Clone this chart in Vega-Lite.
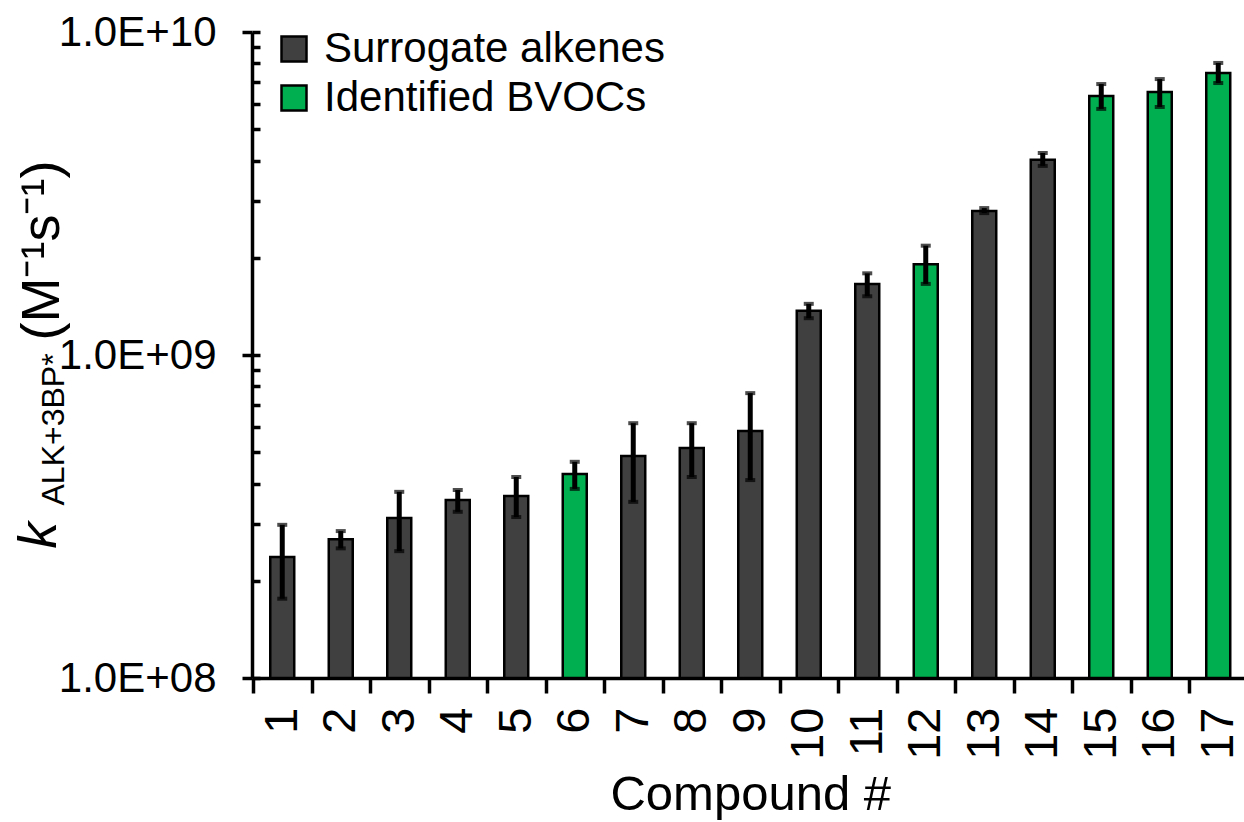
{
  "$schema": "https://vega.github.io/schema/vega-lite/v6.json",
  "width": 992,
  "height": 646,
  "autosize": "none",
  "padding": {"left": 252, "top": 32, "right": 0, "bottom": 144},
  "config": {"view": {"stroke": null}, "font": "Liberation Sans"},
  "data": {
    "values": [
      {"id": 1, "group": "Surrogate alkenes", "k": 2.37e8, "lo": 1.76e8, "hi": 2.98e8},
      {"id": 2, "group": "Surrogate alkenes", "k": 2.69e8, "lo": 2.52e8, "hi": 2.85e8},
      {"id": 3, "group": "Surrogate alkenes", "k": 3.13e8, "lo": 2.47e8, "hi": 3.77e8},
      {"id": 4, "group": "Surrogate alkenes", "k": 3.56e8, "lo": 3.27e8, "hi": 3.82e8},
      {"id": 5, "group": "Surrogate alkenes", "k": 3.66e8, "lo": 3.15e8, "hi": 4.19e8},
      {"id": 6, "group": "Identified BVOCs", "k": 4.28e8, "lo": 3.85e8, "hi": 4.67e8},
      {"id": 7, "group": "Surrogate alkenes", "k": 4.87e8, "lo": 3.51e8, "hi": 6.15e8},
      {"id": 8, "group": "Surrogate alkenes", "k": 5.15e8, "lo": 4.19e8, "hi": 6.15e8},
      {"id": 9, "group": "Surrogate alkenes", "k": 5.82e8, "lo": 4.10e8, "hi": 7.62e8},
      {"id": 10, "group": "Surrogate alkenes", "k": 1.37e9, "lo": 1.30e9, "hi": 1.44e9},
      {"id": 11, "group": "Surrogate alkenes", "k": 1.66e9, "lo": 1.52e9, "hi": 1.79e9},
      {"id": 12, "group": "Identified BVOCs", "k": 1.91e9, "lo": 1.66e9, "hi": 2.18e9},
      {"id": 13, "group": "Surrogate alkenes", "k": 2.79e9, "lo": 2.75e9, "hi": 2.85e9},
      {"id": 14, "group": "Surrogate alkenes", "k": 4.02e9, "lo": 3.85e9, "hi": 4.22e9},
      {"id": 15, "group": "Identified BVOCs", "k": 6.34e9, "lo": 5.78e9, "hi": 6.90e9},
      {"id": 16, "group": "Identified BVOCs", "k": 6.52e9, "lo": 5.86e9, "hi": 7.15e9},
      {"id": 17, "group": "Identified BVOCs", "k": 7.46e9, "lo": 6.95e9, "hi": 8.02e9}
    ]
  },
  "encoding": {
    "x": {
      "field": "id",
      "type": "ordinal",
      "scale": {"paddingInner": 0, "paddingOuter": 0, "range": [1, 995.5]},
      "axis": {
        "title": "Compound #",
        "titleFontSize": 49,
        "titleFontWeight": "normal",
        "titleColor": "black",
        "titlePadding": 11,
        "labelAngle": 270,
        "labelFontSize": 47,
        "labelColor": "black",
        "labelPadding": 14,
        "tickBand": "extent",
        "tickSize": 15,
        "tickWidth": 3.5,
        "tickColor": "black",
        "domainColor": "black",
        "domainWidth": 3.5,
        "grid": false
      }
    }
  },
  "layer": [
    {
      "mark": {"type": "bar", "stroke": "black", "strokeWidth": 2.5, "width": {"band": 0.41}},
      "encoding": {
        "y": {
          "field": "k",
          "type": "quantitative",
          "scale": {"type": "log", "domain": [1e8, 1e10], "nice": false},
          "axis": {
            "orient": "left",
            "values": [1e8, 1e9, 1e10],
            "labelExpr": "datum.value >= 9e9 ? '1.0E+10' : datum.value >= 9e8 ? '1.0E+09' : '1.0E+08'",
            "labelFontSize": 42,
            "labelColor": "black",
            "labelPadding": 26,
            "tickSize": 10,
            "tickWidth": 3.5,
            "tickColor": "black",
            "domainWidth": 3.5,
            "domainColor": "black",
            "grid": false,
            "title": "(M⁻¹s⁻¹)",
            "titleFontSize": 54,
            "titleFontWeight": "normal",
            "titleColor": "black",
            "titleAngle": 270,
            "titleX": -194,
            "titleY": 308,
            "titleAlign": "left",
            "titleBaseline": "alphabetic"
          }
        },
        "y2": {"datum": 1e8},
        "color": {
          "field": "group",
          "type": "nominal",
          "scale": {"domain": ["Surrogate alkenes", "Identified BVOCs"], "range": ["#404040", "#00B050"]},
          "legend": {
            "title": null,
            "orient": "none",
            "legendX": 21,
            "legendY": -4,
            "padding": 0,
            "symbolType": "square",
            "symbolSize": 625,
            "symbolStrokeColor": "black",
            "symbolStrokeWidth": 2.5,
            "labelFontSize": 42,
            "labelColor": "black",
            "labelOffset": 9,
            "rowPadding": 7,
            "labelLimit": 600
          }
        }
      }
    },
    {
      "mark": {"type": "rule", "color": "black", "strokeWidth": 5},
      "encoding": {
        "y": {
          "field": "lo",
          "type": "quantitative",
          "axis": {
            "orient": "left",
            "values": [1e8, 2e8, 3e8, 4e8, 5e8, 6e8, 7e8, 8e8, 9e8, 1e9, 2e9, 3e9, 4e9, 5e9, 6e9, 7e9, 8e9, 9e9, 1e10],
            "labels": false,
            "domain": false,
            "grid": false,
            "tickSize": -8,
            "tickWidth": 3.5,
            "tickColor": "black",
            "title": "k",
            "titleFontSize": 53,
            "titleFontStyle": "italic",
            "titleFontWeight": "normal",
            "titleColor": "black",
            "titleAngle": 270,
            "titleX": -197,
            "titleY": 516,
            "titleAlign": "left",
            "titleBaseline": "alphabetic"
          }
        },
        "y2": {"field": "hi"}
      }
    },
    {
      "mark": {"type": "tick", "color": "black", "size": 10, "thickness": 4},
      "encoding": {
        "y": {
          "field": "lo",
          "type": "quantitative",
          "axis": {
            "orient": "left",
            "labels": false,
            "ticks": false,
            "domain": false,
            "grid": false,
            "title": "ALK+3BP*",
            "titleFontSize": 32,
            "titleFontWeight": "normal",
            "titleColor": "black",
            "titleAngle": 270,
            "titleX": -189,
            "titleY": 473,
            "titleAlign": "left",
            "titleBaseline": "alphabetic"
          }
        }
      }
    },
    {
      "mark": {"type": "tick", "color": "black", "size": 10, "thickness": 4},
      "encoding": {
        "y": {"field": "hi", "type": "quantitative", "axis": null}
      }
    }
  ],
  "resolve": {"axis": {"y": "independent"}}
}
